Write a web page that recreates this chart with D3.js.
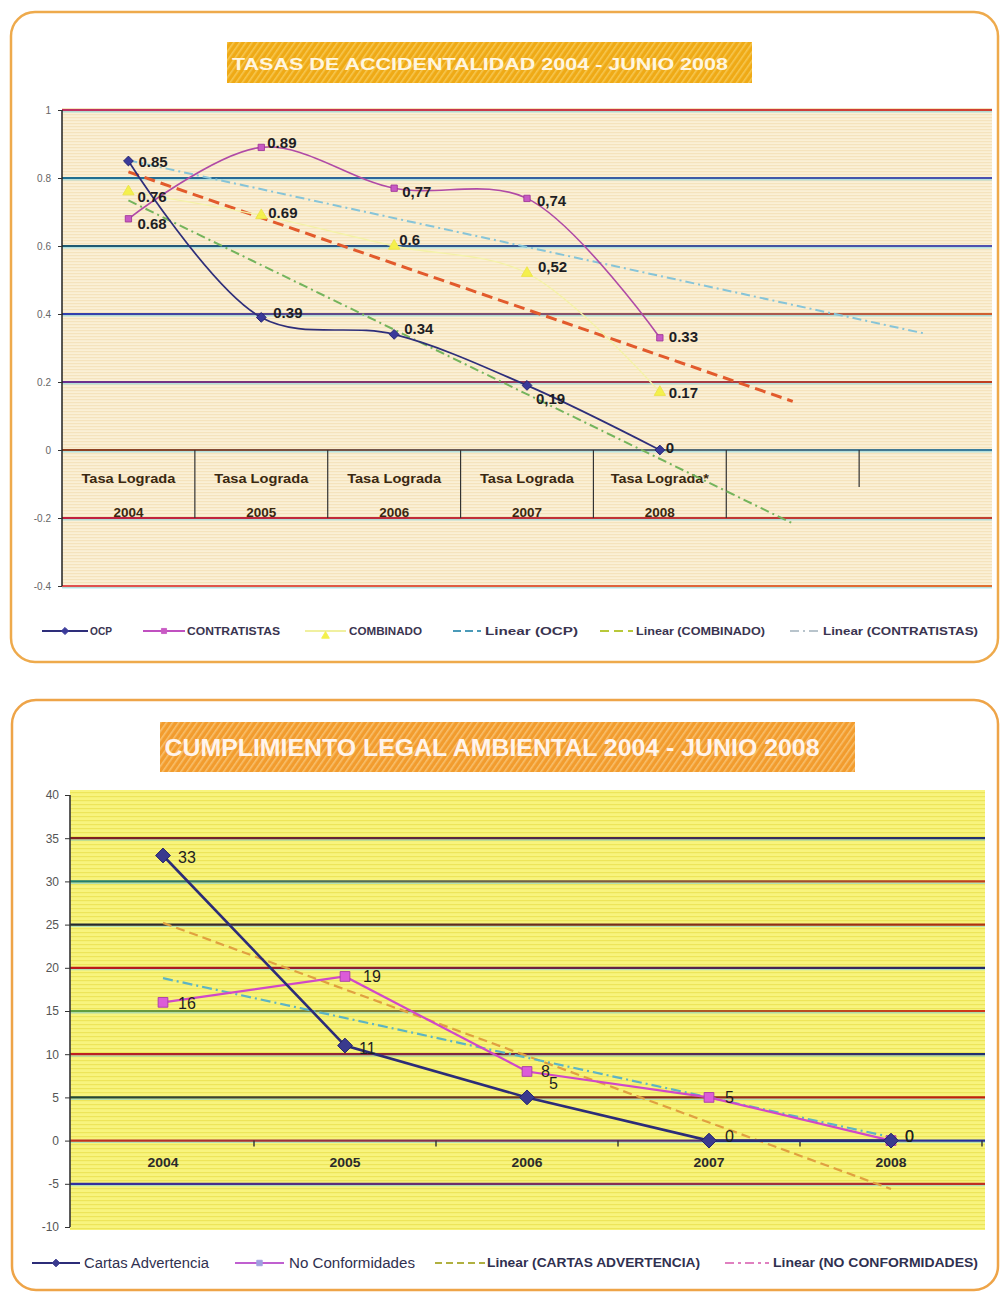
<!DOCTYPE html>
<html><head><meta charset="utf-8">
<script src="https://cdn.jsdelivr.net/npm/d3@7"></script>
<style>body{margin:0;background:#fff;} svg{display:block;} text{font-family:"Liberation Sans",Arial,sans-serif;}</style>
</head><body>
<svg id="c" width="1001" height="1294"></svg>
<script>
// ---------- DATA: chart 1 ----------
const title1 = "TASAS DE ACCIDENTALIDAD 2004 - JUNIO 2008";
const catTop1 = ["Tasa Lograda","Tasa Lograda","Tasa Lograda","Tasa Lograda","Tasa Lograda*","",""];
const catYears1 = ["2004","2005","2006","2007","2008","",""];
const ocp = [0.85, 0.39, 0.34, 0.19, 0];
const contratistas = [0.68, 0.89, 0.77, 0.74, 0.33];
const combinado = [0.76, 0.69, 0.6, 0.52, 0.17];
const ocpLabels = ["0.85","0.39","0.34","0,19","0"];
const contratistasLabels = ["0.68","0.89","0,77","0,74","0.33"];
const combinadoLabels = ["0.76","0.69","0.6","0,52","0.17"];
const yTicks1 = [1, 0.8, 0.6, 0.4, 0.2, 0, -0.2, -0.4];
const yTickLabels1 = ["1","0.8","0.6","0.4","0.2","0","-0.2","-0.4"];
const legend1 = ["OCP","CONTRATISTAS","COMBINADO","Linear (OCP)","Linear (COMBINADO)","Linear (CONTRATISTAS)"];
// trendline forecast (periods forward)
const trendForward1 = {ocp:1, combinado:1, contratistas:2};

// ---------- DATA: chart 2 ----------
const title2 = "CUMPLIMIENTO LEGAL AMBIENTAL 2004 - JUNIO 2008";
const years2 = ["2004","2005","2006","2007","2008"];
const cartas = [33, 11, 5, 0, 0];
const noConf = [16, 19, 8, 5, 0];
const yTicks2 = [40, 35, 30, 25, 20, 15, 10, 5, 0, -5, -10];
const legend2 = ["Cartas Advertencia","No Conformidades","Linear (CARTAS ADVERTENCIA)","Linear (NO CONFORMIDADES)"];

// ---------- STYLE / LAYOUT ----------
const ocpLblOff = [[10,1],[12,-5],[10,-6],[9,13],[6,-2]];
const conLblOff = [[9,5],[6,-5],[8,3],[10,2],[9,-1]];
const comLblOff = [[9,5],[7,-3],[5,-6],[11,-7],[9,0]];
const cartasLblOff = [[15,2],[14,3],[22,-14],[16,-4],[14,-4]];
const noConfLblOff = [[15,1],[18,0],[14,0],[16,0],[14,-4]];
const grid1Colors = [["#c03060","#d04030"],["#1f6f8f","#4a50b0"],["#1e5a70","#5050b0"],["#3040b0","#d06030"],["#6a3090","#c04020"],["#904020","#3a80a0"],["#c02040","#c04030"],["#e05050","#e07030"]];
const grid2Colors = {35:["#802020","#203070"],30:["#208070","#c04020"],25:["#202830","#b03010"],20:["#c01818","#202868"],15:["#60a040","#d03818"],10:["#c02020","#203070"],5:["#204838","#c02010"],0:["#c03020","#2030a0"],"-5":["#3030a0","#c03020"]};

const svg = d3.select("#c");
const defs = svg.append("defs");
const fmtInt = d => String(d);   // plain hyphen-minus, as in the reference

function hatch(id, base, stripe){
  const p = defs.append("pattern").attr("id",id).attr("width",5).attr("height",5)
    .attr("patternUnits","userSpaceOnUse").attr("patternTransform","rotate(35)");
  p.append("rect").attr("width",5).attr("height",5).attr("fill",base);
  p.append("rect").attr("width",1.6).attr("height",5).attr("fill",stripe);
}
function stripes(id, base, stripe, h){
  const p = defs.append("pattern").attr("id",id).attr("width",6).attr("height",h)
    .attr("patternUnits","userSpaceOnUse");
  p.append("rect").attr("width",6).attr("height",h).attr("fill",base);
  p.append("rect").attr("width",6).attr("height",1.2).attr("fill",stripe);
}
hatch("h1","#efaa16","#f6c650");
hatch("h2","#f29c2e","#f8bf6c");
stripes("s1","#fbf0d6","#f5e3bd",3);
stripes("s2","#f8f47e","#ede55a",4);

let gid = 0;
function gradLine(g, x0, x1, y, c0, c1, w){
  const id = "g" + (gid++);
  const lg = defs.append("linearGradient").attr("id",id).attr("gradientUnits","userSpaceOnUse")
    .attr("x1",x0).attr("x2",x1).attr("y1",0).attr("y2",0);
  lg.append("stop").attr("offset",0).attr("stop-color",c0);
  lg.append("stop").attr("offset",0.5).attr("stop-color",d3.interpolateRgb(c0,c1)(0.5));
  lg.append("stop").attr("offset",1).attr("stop-color",c1);
  g.append("line").attr("x1",x0).attr("x2",x1).attr("y1",y+1.8).attr("y2",y+1.8)
    .attr("stroke","#7cd4e4").attr("stroke-width",1.4).attr("opacity",0.55);
  g.append("line").attr("x1",x0).attr("x2",x1).attr("y1",y).attr("y2",y)
    .attr("stroke","url(#"+id+")").attr("stroke-width",w);
}
function linreg(vals){
  const n = vals.length, xs = d3.range(1,n+1);
  const mx = d3.mean(xs), my = d3.mean(vals);
  const b = d3.sum(xs, (x,i)=>(x-mx)*(vals[i]-my)) / d3.sum(xs, x=>(x-mx)*(x-mx));
  return {f: x => my + b*(x-mx), n};
}
// diamond = square rotated 45°
function marker(g, type, size, cx, cy, fill, stroke){
  const sym = type === "diamond" ? d3.symbolSquare : type === "square" ? d3.symbolSquare : d3.symbolTriangle;
  const rot = type === "diamond" ? 45 : 0;
  return g.append("path").attr("d",d3.symbol(sym,size)())
    .attr("transform",`translate(${cx},${cy}) rotate(${rot})`)
    .attr("fill",fill).attr("stroke",stroke).attr("stroke-width",0.9);
}

// ---------- FRAMES ----------
svg.append("rect").attr("x",11).attr("y",12).attr("width",987).attr("height",650).attr("rx",24)
  .attr("fill","#fff").attr("stroke","#eeaa4c").attr("stroke-width",2.5);
svg.append("rect").attr("x",12).attr("y",700).attr("width",986).attr("height",590).attr("rx",24)
  .attr("fill","#fff").attr("stroke","#eea448").attr("stroke-width",2.5);

// =============== CHART 1 ===============
{
  const g = svg.append("g");
  const X0 = 62, X1 = 992;
  const y = d3.scaleLinear().domain([-0.4, 1]).range([586, 110]);
  const xb = d3.scaleBand().domain(d3.range(catTop1.length)).range([X0, X1]);
  const x = d3.scaleLinear().domain([0.5, catTop1.length + 0.5]).range([X0, X1]);

  // title
  g.append("rect").attr("x",227).attr("y",42).attr("width",525).attr("height",41).attr("fill","url(#h1)");
  g.append("text").attr("x",480).attr("y",70).attr("text-anchor","middle").attr("fill","#fff6e0")
    .attr("font-size",17).attr("font-weight","bold").attr("textLength",496).attr("lengthAdjust","spacingAndGlyphs")
    .text(title1);

  // plot bg
  g.append("rect").attr("x",X0).attr("y",108).attr("width",X1-X0).attr("height",480).attr("fill","url(#s1)");

  // gridlines
  yTicks1.forEach((t,i)=> gradLine(g, X0, X1, y(t), grid1Colors[i][0], grid1Colors[i][1], 2));

  // y axis
  g.append("line").attr("x1",X0).attr("x2",X0).attr("y1",y(1)).attr("y2",y(-0.4)).attr("stroke","#222").attr("stroke-width",1.5);
  const ya = g.append("g").attr("transform",`translate(${X0},0)`)
    .call(d3.axisLeft(y).tickValues(yTicks1).tickSize(4).tickFormat((d,i)=>yTickLabels1[i]));
  ya.select(".domain").remove();
  ya.selectAll("line").attr("stroke","#333");
  ya.selectAll("text").attr("font-size",10).attr("fill","#666").attr("dx",-4);

  // category axis (multi-level) at y=0
  const y0 = y(0);
  xb.domain().forEach(i=>{
    if (i === 0) return;
    const xx = xb(i);
    const bottom = i <= 5 ? y(-0.2) : y0 + 37;
    g.append("line").attr("x1",xx).attr("x2",xx).attr("y1",y0).attr("y2",bottom).attr("stroke","#333").attr("stroke-width",1.2);
  });
  catTop1.forEach((c,i)=>{
    if (!c) return;
    const cx = xb(i) + xb.bandwidth()/2;
    g.append("text").attr("x",cx).attr("y",y0+33).attr("text-anchor","middle").attr("font-size",12)
      .attr("font-weight","bold").attr("fill","#3a2810").attr("textLength",c.length>12?98:94).attr("lengthAdjust","spacingAndGlyphs").text(c);
    g.append("text").attr("x",cx).attr("y",y0+67).attr("text-anchor","middle").attr("font-size",12)
      .attr("font-weight","bold").attr("fill","#3a2810").attr("textLength",30).attr("lengthAdjust","spacingAndGlyphs").text(catYears1[i]);
  });

  // trendlines
  const trends = [
    {vals:ocp, fwd:trendForward1.ocp, color:"#74b45c", w:2, dash:"9,4,2,4"},
    {vals:contratistas, fwd:trendForward1.contratistas, color:"#86c4d8", w:2, dash:"9,4,2,4"},
    {vals:combinado, fwd:trendForward1.combinado, color:"#e25a2c", w:3, dash:"11,6"}
  ];
  trends.forEach(t=>{
    const r = linreg(t.vals);
    const x2 = r.n + t.fwd;
    g.append("line").attr("x1",x(1)).attr("y1",y(r.f(1))).attr("x2",x(x2)).attr("y2",y(r.f(x2)))
      .attr("stroke",t.color).attr("stroke-width",t.w).attr("stroke-dasharray",t.dash);
  });

  const line = d3.line().x((d,i)=>x(i+1)).y(d=>y(d)).curve(d3.curveCatmullRom.alpha(0.5));
  const series = [
    {vals:combinado, color:"#f4f2a8", w:1.4, type:"triangle", size:55, fill:"#f4f04c", stroke:"#ece44a", labels:combinadoLabels, off:comLblOff},
    {vals:contratistas, color:"#b04aa6", w:1.6, type:"square", size:40, fill:"#c85ac4", stroke:"#a03898", labels:contratistasLabels, off:conLblOff},
    {vals:ocp, color:"#2e2e7a", w:1.7, type:"diamond", size:48, fill:"#3a3a9a", stroke:"#242470", labels:ocpLabels, off:ocpLblOff}
  ];
  series.forEach(s=>{
    g.append("path").attr("d",line(s.vals)).attr("fill","none").attr("stroke",s.color).attr("stroke-width",s.w);
  });
  series.forEach(s=> s.vals.forEach((v,i)=> marker(g, s.type, s.size, x(i+1), y(v), s.fill, s.stroke)));
  series.forEach(s=>{
    s.vals.forEach((v,i)=>{
      g.append("text").attr("x",x(i+1)+s.off[i][0]).attr("y",y(v)+s.off[i][1]).attr("dy","0.36em")
        .attr("font-size",15).attr("font-weight","bold").attr("fill","#1e1e24").text(s.labels[i]);
    });
  });

  // legend
  const ly = 631;
  const leg = [
    {x0:42,x1:88,color:"#2e2e7a",dash:null,type:"diamond",fill:"#3a3a9a",tx:90,tw:22},
    {x0:143,x1:185,color:"#c050c0",dash:null,type:"square",fill:"#c85ac4",tx:187,tw:93},
    {x0:305,x1:346,color:"#f0f0a0",dash:null,type:"triangle",fill:"#f4f04c",tx:349,tw:73},
    {x0:453,x1:481,color:"#4a9ab8",dash:"8,4",type:null,tx:485,tw:93},
    {x0:600,x1:633,color:"#b8c83a",dash:"9,5",type:null,tx:636,tw:129},
    {x0:790,x1:820,color:"#b8c4cc",dash:"9,4,2,4",type:null,tx:823,tw:155}
  ];
  leg.forEach((l,i)=>{
    g.append("line").attr("x1",l.x0).attr("x2",l.x1).attr("y1",ly).attr("y2",ly).attr("stroke",l.color)
      .attr("stroke-width",2).attr("stroke-dasharray",l.dash);
    if (l.type) marker(g, l.type, 26, (l.x0+l.x1)/2, ly+(i===2?5:0), l.fill, l.fill);
    g.append("text").attr("x",l.tx).attr("y",ly).attr("dy","0.36em").attr("font-size",10).attr("font-weight","bold")
      .attr("fill","#3a3450").attr("textLength",l.tw).attr("lengthAdjust","spacingAndGlyphs").text(legend1[i]);
  });
}

// =============== CHART 2 ===============
{
  const g = svg.append("g");
  const X0 = 70, X1 = 985;
  const y = d3.scaleLinear().domain([-10, 40]).range([1227, 795]);
  const x = d3.scaleLinear().domain([0.5, years2.length + 0.5]).range([72, 982]);

  g.append("rect").attr("x",160).attr("y",722).attr("width",695).attr("height",50).attr("fill","url(#h2)");
  g.append("text").attr("x",492).attr("y",756).attr("text-anchor","middle").attr("fill","#fff4ec")
    .attr("font-size",23).attr("font-weight","bold").attr("textLength",655).attr("lengthAdjust","spacingAndGlyphs")
    .text(title2);

  g.append("rect").attr("x",X0).attr("y",790).attr("width",X1-X0).attr("height",440).attr("fill","url(#s2)");

  yTicks2.filter(t=>t<40 && t>-10).forEach(t=> gradLine(g, X0, X1, y(t), grid2Colors[t][0], grid2Colors[t][1], 2.2));

  g.append("line").attr("x1",X0).attr("x2",X0).attr("y1",y(40)).attr("y2",y(-10)).attr("stroke","#333").attr("stroke-width",1.6);
  const ya = g.append("g").attr("transform",`translate(${X0},0)`)
    .call(d3.axisLeft(y).tickValues(yTicks2).tickSize(5).tickFormat(fmtInt));
  ya.select(".domain").remove();
  ya.selectAll("line").attr("stroke","#333");
  ya.selectAll("text").attr("font-size",12).attr("fill","#555").attr("dx",-3);

  // category ticks and labels
  d3.range(1, years2.length + 1).forEach(i=>{
    const xx = x(i + 0.5);
    g.append("line").attr("x1",xx).attr("x2",xx).attr("y1",y(0)).attr("y2",y(0)+6).attr("stroke","#333").attr("stroke-width",1.4);
  });
  years2.forEach((yr,i)=>{
    g.append("text").attr("x",x(i+1)).attr("y",y(0)+26).attr("text-anchor","middle").attr("font-size",12)
      .attr("font-weight","bold").attr("fill","#2a2a2a").attr("textLength",31).attr("lengthAdjust","spacingAndGlyphs").text(yr);
  });

  // trendlines
  [{vals:cartas,color:"#e0a040",dash:"9,5"},{vals:noConf,color:"#5cb4c4",dash:"10,4,2,4"}].forEach(t=>{
    const r = linreg(t.vals);
    g.append("line").attr("x1",x(1)).attr("y1",y(r.f(1))).attr("x2",x(r.n)).attr("y2",y(r.f(r.n)))
      .attr("stroke",t.color).attr("stroke-width",2.2).attr("stroke-dasharray",t.dash);
  });

  const line = d3.line().x((d,i)=>x(i+1)).y(d=>y(d));
  const series = [
    {vals:noConf, color:"#d048c8", w:2.2, type:"square", size:95, fill:"#dc5cd8", stroke:"#a83aa8", off:noConfLblOff},
    {vals:cartas, color:"#2c2c78", w:2.6, type:"diamond", size:110, fill:"#3a3a8e", stroke:"#22226a", off:cartasLblOff}
  ];
  series.forEach(s=> g.append("path").attr("d",line(s.vals)).attr("fill","none").attr("stroke",s.color).attr("stroke-width",s.w));
  series.forEach(s=> s.vals.forEach((v,i)=> marker(g, s.type, s.size, x(i+1), y(v), s.fill, s.stroke)));
  series.forEach(s=> s.vals.forEach((v,i)=>{
    g.append("text").attr("x",x(i+1)+s.off[i][0]).attr("y",y(v)+s.off[i][1]).attr("dy","0.36em")
      .attr("font-size",16).attr("fill","#1e1e22").text(fmtInt(v));
  }));

  // legend
  const ly = 1263;
  const leg = [
    {x0:32,x1:80,color:"#2c2c78",dash:null,type:"diamond",fill:"#3a3a8e",tx:84,tw:125,bold:false},
    {x0:235,x1:284,color:"#c060d0",dash:null,type:"square",fill:"#a0a0e0",tx:289,tw:126,bold:false},
    {x0:435,x1:485,color:"#b0b040",dash:"7,4",type:null,tx:487,tw:213,bold:true},
    {x0:725,x1:769,color:"#e080c0",dash:"9,4,3,4",type:null,tx:773,tw:205,bold:true}
  ];
  leg.forEach((l,i)=>{
    g.append("line").attr("x1",l.x0).attr("x2",l.x1).attr("y1",ly).attr("y2",ly).attr("stroke",l.color)
      .attr("stroke-width",2).attr("stroke-dasharray",l.dash);
    if (l.type) marker(g, l.type, 30, (l.x0+l.x1)/2, ly, l.fill, l.fill);
    g.append("text").attr("x",l.tx).attr("y",ly).attr("dy","0.36em").attr("font-size",l.bold?12:14)
      .attr("font-weight",l.bold?"bold":"normal").attr("fill","#303050")
      .attr("textLength",l.tw).attr("lengthAdjust","spacingAndGlyphs").text(legend2[i]);
  });
}
</script>
</body></html>
